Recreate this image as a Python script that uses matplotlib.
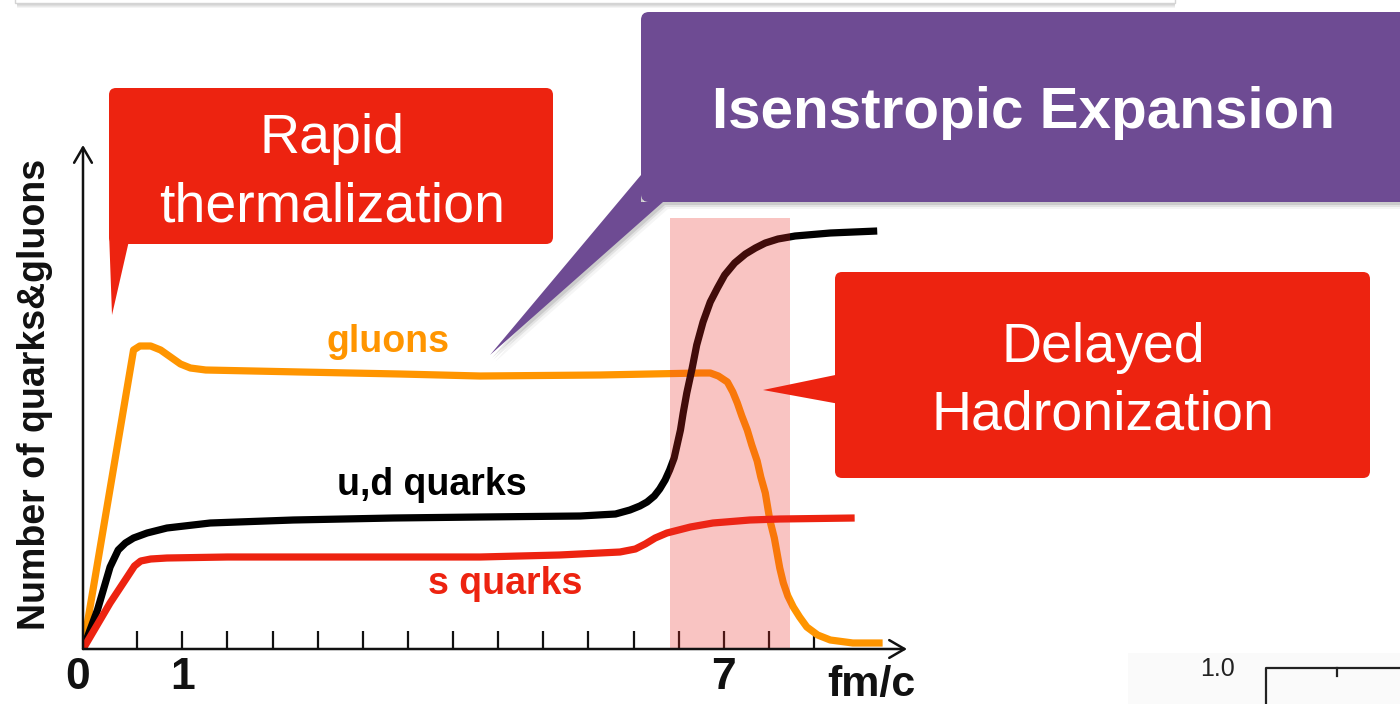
import numpy as np
import matplotlib.pyplot as plt
from matplotlib.patches import FancyBboxPatch, Polygon, Rectangle

plt.rcParams['font.family'] = ['Liberation Sans', 'DejaVu Sans']

W, H = 1400, 704

# time in fm/c, particle number in arbitrary units
gluon_t = [-0.1, 0.46, 0.53, 0.65, 0.76, 0.87, 0.98, 1.09, 1.26, 2.31, 3.41, 4.30,
           5.63, 6.74, 6.85, 6.94, 7.04, 7.10, 7.15, 7.20, 7.26, 7.31, 7.37, 7.41,
           7.46, 7.51, 7.56, 7.59, 7.62, 7.66, 7.71, 7.77, 7.84, 7.92, 8.04, 8.18,
           8.43, 8.76]
gluon_n = [0.0, 2.99, 3.03, 3.03, 2.99, 2.92, 2.85, 2.81, 2.79, 2.77, 2.75, 2.73,
           2.74, 2.76, 2.76, 2.73, 2.67, 2.57, 2.46, 2.33, 2.19, 2.04, 1.88, 1.72,
           1.56, 1.29, 1.11, 0.96, 0.81, 0.66, 0.53, 0.42, 0.32, 0.22, 0.14, 0.09,
           0.06, 0.06]

ud_t = [-0.1, 0.06, 0.20, 0.29, 0.37, 0.46, 0.61, 0.83, 1.31, 2.23, 3.34, 4.30,
        5.41, 5.80, 5.96, 6.07, 6.15, 6.23, 6.29, 6.35, 6.40, 6.45, 6.48, 6.52,
        6.55, 6.59, 6.65, 6.70, 6.77, 6.85, 6.93, 7.01, 7.12, 7.24, 7.35, 7.46,
        7.60, 7.79, 8.18, 8.70]
ud_n = [0.0, 0.39, 0.82, 0.99, 1.06, 1.11, 1.16, 1.21, 1.26, 1.29, 1.31, 1.32,
        1.33, 1.35, 1.39, 1.43, 1.47, 1.53, 1.60, 1.69, 1.79, 1.91, 2.03, 2.19,
        2.36, 2.56, 2.81, 3.04, 3.27, 3.47, 3.61, 3.74, 3.86, 3.95, 4.01, 4.06,
        4.10, 4.13, 4.16, 4.18]

s_t = [-0.1, 0.20, 0.39, 0.47, 0.54, 0.65, 0.83, 1.50, 2.31, 3.41, 4.30, 5.18,
       5.85, 6.02, 6.13, 6.24, 6.37, 6.63, 6.88, 7.29, 7.62, 8.45]
s_n = [0.0, 0.46, 0.72, 0.83, 0.88, 0.90, 0.91, 0.92, 0.92, 0.92, 0.92, 0.94,
       0.97, 1.00, 1.05, 1.11, 1.16, 1.22, 1.26, 1.29, 1.30, 1.31]

# hadronization window
band_t = [6.40, 7.73]
band_top = 4.31

tick_pos = np.arange(0.5, 8.01, 0.5)
tick_text = {-0.16: '0', 1.0: '1', 7.0: '7'}

RED = '#ed2310'
ORANGE = '#ff9500'
PURPLE = '#6e4b93'
INK = '#111111'

fig = plt.figure(figsize=(W / 100, H / 100), dpi=100)
fig.patch.set_facecolor('white')

ax = fig.add_axes([83 / W, 1 - 649 / H, (907 - 83) / W, (649 - 145) / H], zorder=1)
ax.set_xlim(-0.1, 9.03)
ax.set_ylim(0, 5.04)
for sp in ax.spines.values():
    sp.set_visible(False)
ax.set_yticks([])
ax.set_xticks(tick_pos)
ax.tick_params(axis='x', direction='in', length=13, width=1.6, color=INK, labelbottom=False)

line_kw = dict(lw=5.2, solid_joinstyle='round', solid_capstyle='butt', zorder=3)
ax.plot(gluon_t, gluon_n, color=ORANGE, **line_kw)
ax.plot(ud_t, ud_n, color='black', **line_kw)
ax.plot(s_t, s_n, color=RED, **line_kw)

ax.fill_between(band_t, 0, band_top, color=(235 / 255, 45 / 255, 38 / 255), alpha=0.28,
                lw=0, zorder=5)

arrow = dict(arrowstyle='->,head_length=0.55,head_width=0.32', lw=1.8, color=INK,
             shrinkA=0, shrinkB=0, mutation_scale=20)
ax.annotate('', xy=(1, 0), xytext=(0, 0), xycoords='axes fraction',
            arrowprops=arrow, annotation_clip=False, zorder=6)
ax.annotate('', xy=(0, 1), xytext=(0, 0), xycoords='axes fraction',
            arrowprops=arrow, annotation_clip=False, zorder=6)

xt = ax.get_xaxis_transform()
for x, s in tick_text.items():
    ax.text(x, -0.0575, s, transform=xt, ha='center', va='center',
            fontsize=32, fontweight='bold', color=INK)
ax.text(8.63, -0.093, 'fm/c', transform=xt, ha='center', va='baseline',
        fontsize=31, fontweight='bold', color=INK)

lab_kw = dict(ha='center', va='baseline', fontsize=27, fontweight='bold', zorder=4)
ax.text(3.28, 2.97, 'gluons', color=ORANGE, **lab_kw)
ax.text(3.76, 1.54, 'u,d quarks', color='black', **lab_kw)
ax.text(4.58, 0.55, 's quarks', color=RED, **lab_kw)

fig.text(35 / W, 1 - 394 / H, 'Number of quarks&gluons', rotation=90, ha='center',
         va='center', fontsize=27, fontweight='bold', color=INK)

# pixel-space layer for the callouts and slide furniture
ov = fig.add_axes([0, 0, 1, 1], zorder=3)
ov.set_xlim(0, W)
ov.set_ylim(H, 0)
ov.axis('off')

# header strip along the top edge
for k in range(1, 6):
    ov.add_patch(Rectangle((17, -30), 1158, 33 + k, fc='black', ec='none', alpha=0.045))
ov.add_patch(Rectangle((15, -30), 1160, 33, fc='white', ec='#d4d4d4', lw=1))

# rapid thermalization callout
ov.add_patch(FancyBboxPatch((109, 88), 444, 156, boxstyle='round,pad=0,rounding_size=7',
                            fc=RED, ec='none'))
ov.add_patch(Polygon([(109, 232), (112, 315), (131, 232)], closed=True, fc=RED, ec='none'))
ov.text(332, 153, 'Rapid', color='white', fontsize=40, ha='center', va='baseline')
ov.text(332, 221, 'thermalization', color='white', fontsize=40, ha='center', va='baseline')

# isentropic expansion callout with drop shadow
purple_tail = [(641, 175), (490, 355), (663, 202), (641, 202)]
for dx, dy, a in [(2, 3, 0.10), (3, 5, 0.07), (5, 7, 0.04)]:
    ov.add_patch(FancyBboxPatch((641 + dx, 12 + dy), 800, 190,
                                boxstyle='round,pad=0,rounding_size=8',
                                fc='black', ec='none', alpha=a))
    ov.add_patch(Polygon([(x + dx, y + dy) for x, y in purple_tail], closed=True,
                         fc='black', ec='none', alpha=a))
ov.add_patch(FancyBboxPatch((641, 12), 800, 190, boxstyle='round,pad=0,rounding_size=8',
                            fc=PURPLE, ec='none'))
ov.add_patch(Polygon(purple_tail, closed=True, fc=PURPLE, ec='none'))
ov.text(1024, 128, 'Isenstropic Expansion', color='white', fontsize=42,
        fontweight='bold', ha='center', va='baseline')

# delayed hadronization callout
ov.add_patch(FancyBboxPatch((835, 272), 535, 206, boxstyle='round,pad=0,rounding_size=7',
                            fc=RED, ec='none'))
ov.add_patch(Polygon([(845, 373), (763, 390), (845, 405)], closed=True, fc=RED, ec='none'))
ov.text(1103, 362, 'Delayed', color='white', fontsize=40, ha='center', va='baseline')
ov.text(1103, 430, 'Hadronization', color='white', fontsize=40, ha='center', va='baseline')

# corner of the neighbouring plot
ov.add_patch(Rectangle((1128, 653), 280, 60, fc='#fafafa', ec='none'))
ov.text(1218, 669, '1.0', color='#222222', fontsize=18, ha='center', va='center')
ov.plot([1266, 1266, 1405], [710, 668, 668], color='#222222', lw=1.6)
ov.plot([1337, 1337], [668, 676], color='#222222', lw=1.6)

fig.savefig('out.png', dpi=100, facecolor='white')
